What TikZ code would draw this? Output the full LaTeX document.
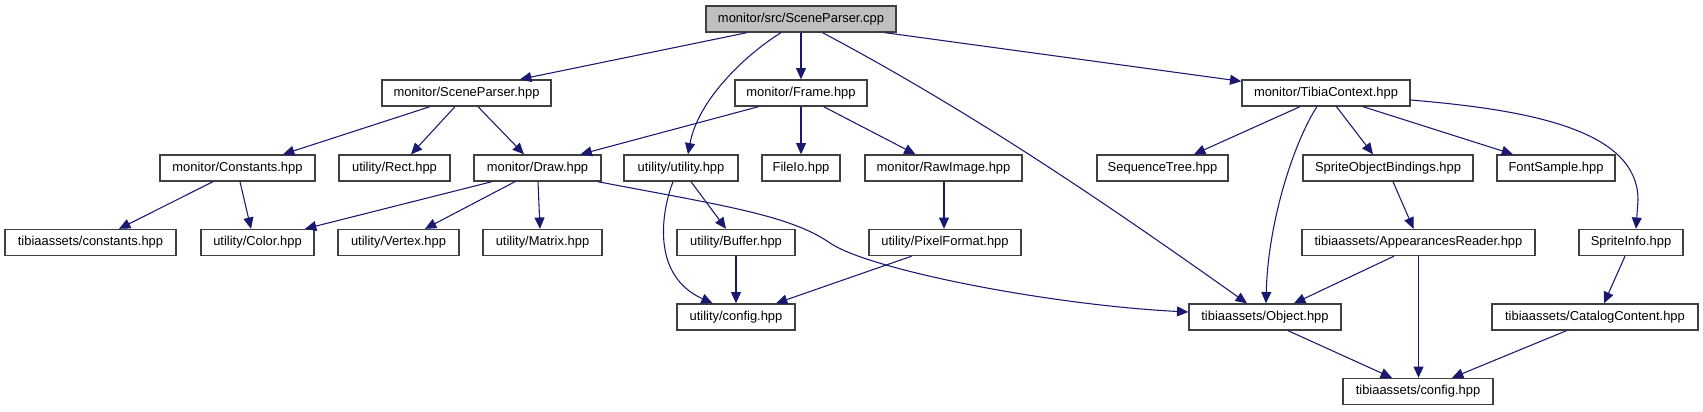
\documentclass[tikz,border=0pt]{standalone}
\usepackage{fontspec}
\setmainfont{Liberation Sans}
\usetikzlibrary{arrows.meta,calc}
\definecolor{edgeblue}{HTML}{191970}
\definecolor{boxline}{HTML}{404040}
\definecolor{rootfill}{HTML}{BFBFBF}
\begin{document}
\begin{tikzpicture}[x=0.75pt,y=-0.75pt,
  box/.style={draw=boxline,line width=1pt,fill=white,minimum height=19.5pt,inner sep=0pt,
    font=\fontsize{9.7}{11}\selectfont,text=black},
  bw/.style={minimum width={#1*0.75pt}},
  rootbox/.style={box,fill=rootfill},
  edge/.style={draw=edgeblue,line width=0.8pt,-{Triangle[length=8.5pt,width=7.5pt]},fill=none},
]
\useasboundingbox (0,0) rectangle (1703,411);
\fill[white] (0,0) rectangle (1703,411);
% row 1
\node[rootbox,bw=190] (root) at (801,19) {monitor/src/SceneParser.cpp};
% row 2
\node[box,bw=169] (sp) at (466.5,93) {monitor/SceneParser.hpp};
\node[box,bw=132] (frame) at (801,93) {monitor/Frame.hpp};
\node[box,bw=168] (tc) at (1326,93) {monitor/TibiaContext.hpp};
% row 3
\node[box,bw=155] (const) at (237.5,168) {monitor/Constants.hpp};
\node[box,bw=111] (rect) at (394.5,168) {utility/Rect.hpp};
\node[box,bw=127] (draw) at (537.5,168) {monitor/Draw.hpp};
\node[box,bw=114] (util) at (681,168) {utility/utility.hpp};
\node[box,bw=78] (fileio) at (801,168) {FileIo.hpp};
\node[box,bw=157] (raw) at (943.5,168) {monitor/RawImage.hpp};
\node[box,bw=131] (seq) at (1162.5,168) {SequenceTree.hpp};
\node[box,bw=170] (sob) at (1388,168) {SpriteObjectBindings.hpp};
\node[box,bw=118] (font) at (1556,168) {FontSample.hpp};
% row 4
\node[box,bw=171] (tconst) at (90.5,242.5) {tibiaassets/constants.hpp};
\node[box,bw=113] (color) at (257.5,242.5) {utility/Color.hpp};
\node[box,bw=121] (vertex) at (398.5,242.5) {utility/Vertex.hpp};
\node[box,bw=119] (matrix) at (542.5,242.5) {utility/Matrix.hpp};
\node[box,bw=118] (buffer) at (736,242.5) {utility/Buffer.hpp};
\node[box,bw=152] (pixel) at (945,242.5) {utility/PixelFormat.hpp};
\node[box,bw=233] (app) at (1418.5,242.5) {tibiaassets/AppearancesReader.hpp};
\node[box,bw=104] (sinfo) at (1631,242.5) {SpriteInfo.hpp};
% row 5
\node[box,bw=118] (uconf) at (736,317) {utility/config.hpp};
\node[box,bw=152] (obj) at (1265,317) {tibiaassets/Object.hpp};
\node[box,bw=206] (cat) at (1595,317) {tibiaassets/CatalogContent.hpp};
% row 6
\node[box,bw=150] (tconf) at (1418,391.5) {tibiaassets/config.hpp};

% edges
\draw[edge] ($(root.south)+(-54,0)$) -- ($(sp.north)+(53.5,0)$);
\draw[edge] ($(root.south)+(-20,0)$) .. controls (745,55) and (698,100) .. ($(util.north)+(7,0)$);
\draw[edge] (root.south) -- (frame.north);
\draw[edge] ($(root.south)+(21.5,0)$) .. controls (972,112) and (1107,204) .. ($(obj.north)+(-18,0)$);
\draw[edge] ($(root.south)+(84,0)$) -- ($(tc.north west)+(0,2)$);

\draw[edge] ($(sp.south)+(-36.5,0)$) -- ($(const.north)+(45.5,0)$);
\draw[edge] ($(sp.south)+(-11.5,0)$) -- ($(rect.north)+(16.5,0)$);
\draw[edge] ($(sp.south)+(11.5,0)$) -- ($(draw.north)+(-13.5,0)$);

\draw[edge] ($(frame.south)+(-42.5,0)$) -- ($(draw.north)+(43,0)$);
\draw[edge] (frame.south) -- (fileio.north);
\draw[edge] ($(frame.south)+(22.6,0)$) -- ($(raw.north)+(-28,0)$);

\draw[edge] ($(tc.south)+(-26,0)$) -- ($(seq.north)+(31.5,0)$);
\draw[edge] ($(tc.south)+(-9,0)$) .. controls (1295,140) and (1268,220) .. ($(obj.north)+(1,0)$);
\draw[edge] ($(tc.south)+(10.5,0)$) -- ($(sob.north)+(-15,0)$);
\draw[edge] ($(tc.south)+(37,0)$) -- ($(font.north)+(-43,0)$);
\draw[edge] ($(tc.east)+(0,7)$) .. controls (1530,110) and (1638,130) .. (1638,200) -- ($(sinfo.north)+(5,0)$);

\draw[edge] ($(const.south)+(-24.5,0)$) -- ($(tconst.north)+(28.5,0)$);
\draw[edge] ($(const.south)+(2.5,0)$) -- ($(color.north)+(-6.5,0)$);

\draw[edge] ($(draw.south)+(-45.5,0)$) -- ($(color.north)+(47.5,0)$);
\draw[edge] ($(draw.south)+(-22.5,0)$) -- ($(vertex.north)+(26.5,0)$);
\draw[edge] ($(draw.south)+(0.5,0)$) -- ($(matrix.north)+(-2.5,0)$);
\draw[edge] ($(draw.south east)+(-4,0)$) .. controls (720,205) and (790,215) .. (830,243)
  .. controls (870,270) and (1050,305) .. ($(obj.west)+(0,-5)$);

\draw[edge] ($(util.south)+(10,0)$) -- ($(buffer.north)+(-10,0)$);
\draw[edge] ($(util.south)+(-8,0)$) .. controls (662,210) and (650,275) .. ($(uconf.north)+(-23.4,0)$);
\draw[edge] (buffer.south) -- (uconf.north);

\draw[edge] ($(raw.south)+(0.5,0)$) -- ($(pixel.north)+(-1,0)$);
\draw[edge] ($(pixel.south)+(-33.4,0)$) -- ($(uconf.north)+(40,0)$);

\draw[edge] ($(sob.south)+(5,0)$) -- ($(app.north)+(-5,0)$);
\draw[edge] ($(app.south)+(-24.5,0)$) -- ($(obj.north)+(29,0)$);
\draw[edge] (app.south) -- ($(tconf.north)+(0.5,0)$);

\draw[edge] ($(sinfo.south)+(-6,0)$) -- ($(cat.north)+(9,0)$);
\draw[edge] ($(obj.south)+(23,0)$) -- ($(tconf.north)+(-26,0)$);
\draw[edge] ($(cat.south)+(-28.5,0)$) -- ($(tconf.north)+(34,0)$);
\end{tikzpicture}
\end{document}
